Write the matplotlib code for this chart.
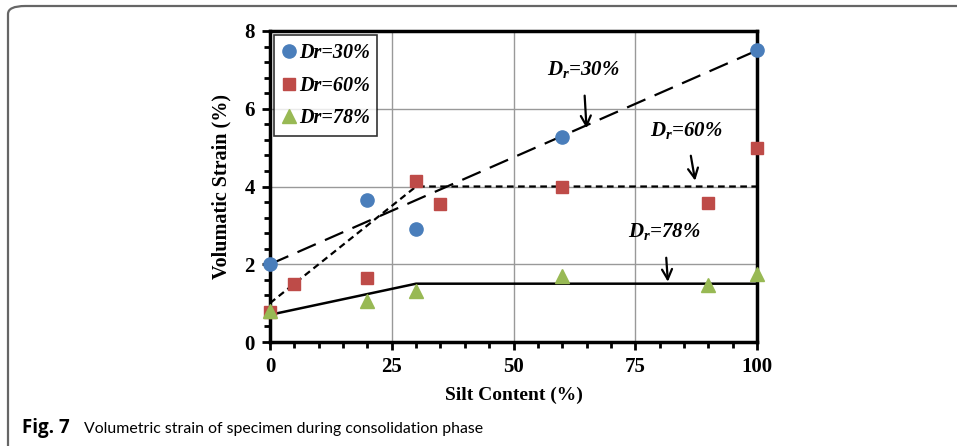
import matplotlib
matplotlib.use("Agg")
import matplotlib.pyplot as plt
from matplotlib.patches import FancyBboxPatch
from matplotlib.ticker import MultipleLocator

plt.rcParams['mathtext.fontset'] = 'custom'
plt.rcParams['mathtext.it'] = 'Liberation Serif:bold:italic'
plt.rcParams['mathtext.rm'] = 'Liberation Serif:bold'
plt.rcParams['font.family'] = ['Liberation Serif', 'DejaVu Serif']

# Data
x30 = [0, 20, 30, 60, 100]
y30 = [2.0, 3.65, 2.9, 5.28, 7.5]
x60 = [0, 5, 20, 30, 35, 60, 90, 100]
y60 = [0.78, 1.5, 1.65, 4.15, 3.55, 3.98, 3.58, 5.0]
x78 = [0, 20, 30, 60, 90, 100]
y78 = [0.8, 1.05, 1.3, 1.7, 1.47, 1.75]

# Trend lines
fx30 = [0, 100]
fy30 = [2.0, 7.5]
fx60 = [0, 30, 100]
fy60 = [1.0, 4.0, 4.0]
fx78 = [0, 30, 100]
fy78 = [0.7, 1.5, 1.5]

xticks = [0, 25, 50, 75, 100]
yticks = [0, 2, 4, 6, 8]

c30 = '#4A7EBB'
c60 = '#BE4B48'
c78 = '#98B954'

fig = plt.figure(figsize=(9.57, 4.46), dpi=100)
ax = fig.add_axes([270/957, 1-342/446, (757-270)/957, (342-31)/446])

ax.plot(fx30, fy30, color='black', lw=1.6, dashes=(9, 4.5), zorder=2)
ax.plot(fx60, fy60, color='black', lw=1.6, dashes=(3, 2), zorder=2)
ax.plot(fx78, fy78, color='black', lw=1.8, zorder=2)

ax.plot(x30, y30, 'o', color=c30, ms=9.5, mec=c30, label=r'Dr=30%', zorder=4, clip_on=False)
ax.plot(x60, y60, 's', color=c60, ms=8.5, mec=c60, label=r'Dr=60%', zorder=4, clip_on=False)
ax.plot(x78, y78, '^', color=c78, ms=9.5, mec=c78, label=r'Dr=78%', zorder=4, clip_on=False)

ax.set_xlim(0, 100)
ax.set_ylim(0, 8)
ax.set_xticks(xticks)
ax.set_yticks(yticks)
ax.xaxis.set_minor_locator(MultipleLocator(5))
ax.yaxis.set_minor_locator(MultipleLocator(0.4))
ax.tick_params(which='major', direction='out', length=6, width=2, labelsize=15, pad=5)
ax.tick_params(which='minor', direction='out', length=4, width=2)
ax.tick_params(top=False, right=False, which='both')
for lab in ax.get_xticklabels() + ax.get_yticklabels():
    lab.set_fontweight('bold')
ax.grid(True, which='major', color='#999999', lw=1)
ax.set_axisbelow(True)
for s in ax.spines.values():
    s.set_linewidth(2.5)
    s.set_color('black')

ax.set_xlabel('Silt Content (%)', fontsize=14, fontweight='bold', labelpad=7)
ax.set_ylabel('Volumatic Strain (%)', fontsize=14.5, fontweight='bold', labelpad=9)

leg = ax.legend(loc='upper left', prop={'family': 'Liberation Serif', 'weight': 'bold', 'style': 'italic', 'size': 14.5},
                frameon=True, fancybox=False, edgecolor='black', handletextpad=0.15, handlelength=0.7,
                borderpad=0.38, labelspacing=0.64, borderaxespad=0.2)
leg.get_frame().set_linewidth(1.2)

akw = dict(fontsize=15, fontweight='bold', style='italic', ha='center', va='center',
           arrowprops=dict(arrowstyle='->', lw=1.6, color='black', mutation_scale=18, shrinkA=9, shrinkB=0))
ax.annotate(r'$D_r$=30%', xy=(65.0, 5.5), xytext=(64.3, 7.0), **akw)
ax.annotate(r'$D_r$=60%', xy=(87.3, 4.15), xytext=(85.5, 5.45), **akw)
ax.annotate(r'$D_r$=78%', xy=(81.7, 1.55), xytext=(81.0, 2.83), **akw)

# Figure frame
frame = FancyBboxPatch((8/957, -20/446), 1.2, (446-6+20)/446, boxstyle='round,pad=0,rounding_size=0.018',
                       transform=fig.transFigure, fill=False, edgecolor='#666666', lw=1.6, clip_on=True)
fig.patches.append(frame)

fig.text(22/957, 1-433/446, r'Fig. 7', fontsize=13.5, fontweight='bold', family='Open Sans', va='baseline', ha='left')
fig.text(84/957, 1-433/446, 'Volumetric strain of specimen during consolidation phase', fontsize=11.4,
         family='Lato', va='baseline', ha='left')

fig.savefig('out.png', dpi=100)
